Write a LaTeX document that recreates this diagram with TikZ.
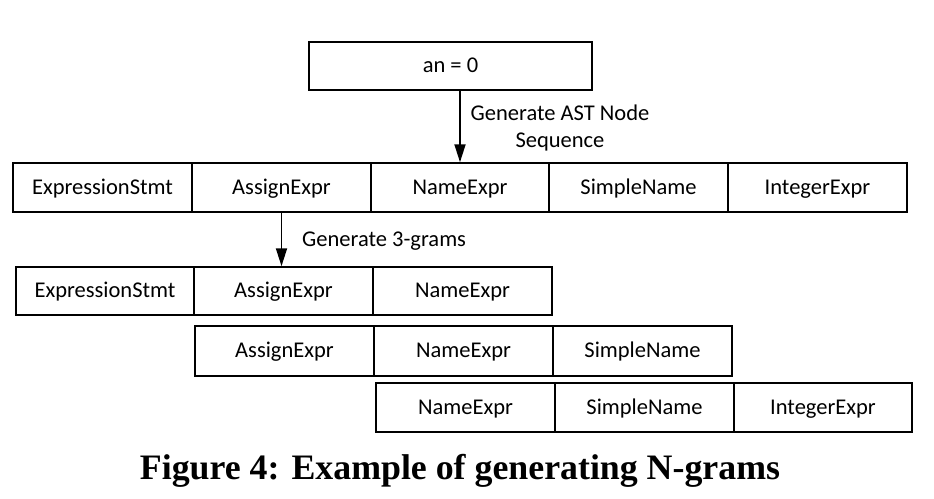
\documentclass[tikz,border=0pt]{standalone}
\usepackage{fontspec}
\setmainfont{Carlito}
\newfontfamily\capfont{Liberation Serif}
\usetikzlibrary{arrows.meta}
\tikzset{
  cell/.style={draw, line width=1.5pt, rectangle, inner sep=0pt, minimum height=48pt, text height=16pt, text depth=3pt, font=\fontsize{22.5}{26}\selectfont},
  arr/.style={line width=1.8pt, -{Triangle[length=18pt,width=11pt]}},
  lbl/.style={font=\fontsize{22.5}{27}\selectfont, inner sep=0pt}
}
\begin{document}
\begin{tikzpicture}[x=1pt,y=-1pt]
\useasboundingbox (0,0) rectangle (934,498);
% top box
\node[cell, minimum width=283pt] (top) at (450.5,66) {an = 0};
% row 1
\node[cell, minimum width=179pt, minimum height=49pt] (r1c1) at (102.5,187.5) {ExpressionStmt};
\node[cell, minimum width=179pt, minimum height=49pt] (r1c2) at (281.5,187.5) {AssignExpr};
\node[cell, minimum width=178pt, minimum height=49pt] (r1c3) at (460,187.5) {NameExpr};
\node[cell, minimum width=179pt, minimum height=49pt] (r1c4) at (638.5,187.5) {SimpleName};
\node[cell, minimum width=179pt, minimum height=49pt] (r1c5) at (817.5,187.5) {IntegerExpr};
% row 2
\node[cell, minimum width=178pt] (r2c1) at (105,291) {ExpressionStmt};
\node[cell, minimum width=179pt] (r2c2) at (283.5,291) {AssignExpr};
\node[cell, minimum width=179pt] (r2c3) at (462.5,291) {NameExpr};
% row 3
\node[cell, minimum width=179pt, minimum height=50pt] (r3c1) at (284.5,351) {AssignExpr};
\node[cell, minimum width=179pt, minimum height=50pt] (r3c2) at (463.5,351) {NameExpr};
\node[cell, minimum width=179pt, minimum height=50pt] (r3c3) at (642.5,351) {SimpleName};
% row 4
\node[cell, minimum width=179pt, minimum height=49pt] (r4c1) at (465.5,407.5) {NameExpr};
\node[cell, minimum width=179pt, minimum height=49pt] (r4c2) at (644.5,407.5) {SimpleName};
\node[cell, minimum width=178pt, minimum height=49pt] (r4c3) at (823,407.5) {IntegerExpr};
% arrows
\draw[arr] (top.south -| r1c3.north) -- (r1c3.north);
\draw[arr] (r1c2.south) -- (r1c2.south |- r2c2.north);
% labels
\node[lbl, anchor=base] (l1a) at (560,120) {Generate AST Node};
\node[lbl, anchor=base] (l1b) at (560,147) {Sequence};
\node[lbl, anchor=base west] (l2) at (302,246) {Generate 3-grams};
% caption
\node[inner sep=0pt, anchor=base] (cap) at (460,479) {\resizebox{640pt}{!}{\capfont\bfseries\fontsize{30}{34}\selectfont Figure 4: Example of generating N-grams}};
\end{tikzpicture}
\end{document}
